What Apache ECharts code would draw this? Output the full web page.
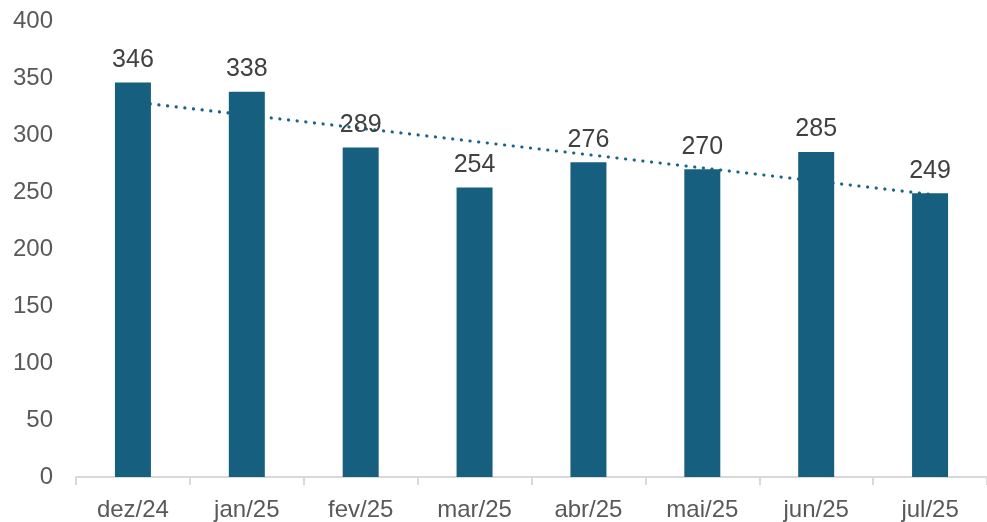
<!DOCTYPE html>
<html>
<head>
<meta charset="utf-8">
<script src="https://cdn.jsdelivr.net/npm/echarts@6/dist/echarts.min.js"></script>
<style>
  html, body { margin: 0; padding: 0; background: #fff; }
  #chart { width: 987px; height: 522px; }
</style>
</head>
<body>
<div id="chart"></div>
<script>
var categories = ["dez/24", "jan/25", "fev/25", "mar/25", "abr/25", "mai/25", "jun/25", "jul/25"];
var values = [346, 338, 289, 254, 276, 270, 285, 249];
// linha de tendência (pontas)
var trendStart = 329;
var trendEnd = 248;

var chart = echarts.init(document.getElementById("chart"));
var option = {
  animation: false,
  grid: { left: 76, right: -9, top: 21, bottom: 42, containLabel: false },
  xAxis: {
    type: "category",
    data: categories,
    axisLine: { lineStyle: { color: "#d9d9d9", width: 2 } },
    axisTick: { show: true, alignWithLabel: false, length: 8, lineStyle: { color: "#d9d9d9", width: 2 } },
    axisLabel: { color: "#595959", fontSize: 24, fontFamily: "Liberation Sans", margin: 21 }
  },
  yAxis: {
    type: "value",
    min: 0,
    max: 400,
    interval: 50,
    splitLine: { show: false },
    axisLine: { show: false },
    axisTick: { show: false },
    axisLabel: { color: "#595959", fontSize: 24, fontFamily: "Liberation Sans", margin: 23 }
  },
  series: [
    {
      name: "tendência",
      type: "line",
      data: [[categories[0], trendStart], [categories[categories.length - 1], trendEnd]],
      symbol: "none",
      z: 1,
      lineStyle: { color: "#1a6585", width: 3.2, type: [0.1, 8.6], cap: "round" }
    },
    {
      name: "valores",
      type: "bar",
      data: values,
      barWidth: 36,
      z: 2,
      itemStyle: { color: "#175f7f" },
      label: {
        show: true,
        position: "top",
        distance: 10,
        color: "#404040",
        fontSize: 25,
        fontFamily: "Liberation Sans"
      }
    }
  ]
};
chart.setOption(option);
</script>
</body>
</html>
